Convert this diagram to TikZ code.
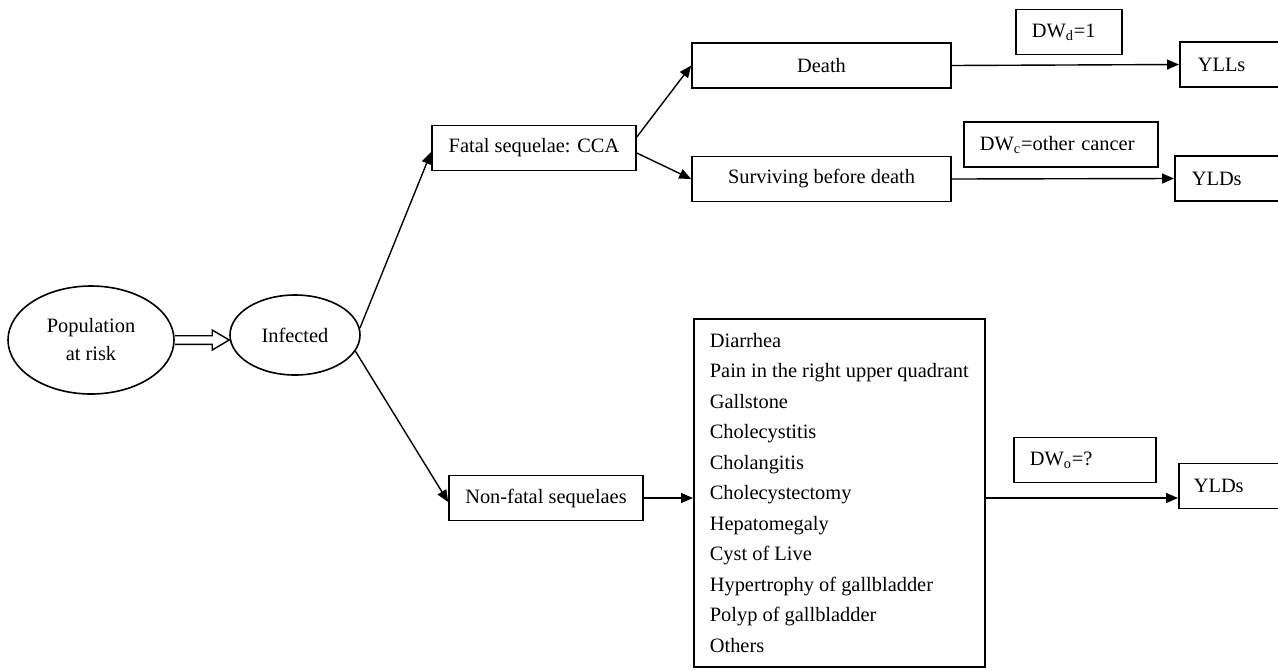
\documentclass[tikz,border=0pt]{standalone}
\usepackage{fontspec}
\setmainfont{Liberation Serif}
\usetikzlibrary{arrows.meta,calc,shapes.geometric}

\tikzset{
  box/.style={draw, line width=0.8pt, inner sep=0pt, minimum height=22.5pt},
  oval/.style={ellipse, draw, line width=0.8pt, inner sep=0pt, align=center},
  lbox/.style={box, anchor=west, align=left, inner xsep=8pt},
  arr/.style={-{Triangle[length=6pt,width=5pt]}, line width=0.7pt}
}

\begin{document}
\begin{tikzpicture}[x=0.5pt, y=-0.5pt, font=\fontsize{10.2}{15.25}\selectfont]
      \useasboundingbox (0,0) rectangle (1278,670);
      \clip (0,0) rectangle (1278,670);
      \node [oval, minimum width=83pt, minimum height=54pt, font=\fontsize{10.2}{14}\selectfont] (pop) at (91,340) {Population\\at risk};
      \node [oval, minimum width=65pt, minimum height=40pt] (inf) at (295,335) {Infected};
      \node [box, minimum width=102pt] (fat) at (534,148) {Fatal sequelae: CCA};
      \node [box, minimum width=97pt] (nfat) at (546,498) {Non-fatal sequelaes};
      \node [box, minimum width=129.5pt] (dea) at (821.5,65.5) {Death};
      \node [box, minimum width=129.5pt] (sur) at (821.5,179) {Surviving before death};
      \node [lbox, text width=37pt] (dwd) at (1015,32) {DW\textsubscript{d}=1};
      \node [lbox, text width=81pt] (dwc) at (963,144.5) {DW\textsubscript{c}=other cancer};
      \node [lbox, text width=55pt] (dwo) at (1013,460) {DW\textsubscript{o}=?};
      \node [lbox, inner xsep=9pt, text width=42pt] (yll) at (1179,64.5) {YLLs};
      \node [lbox, inner xsep=8.5pt, text width=43pt] (yldc) at (1174,178.5) {YLDs};
      \node [lbox, inner xsep=7.5pt, text width=45pt] (yldo) at (1178,486) {YLDs};
      \node [box, anchor=west, align=left, inner xsep=8pt, minimum width=145.5pt, minimum height=174pt] (lst) at (693,493) {Diarrhea\\Pain in the right upper quadrant\\Gallstone\\Cholecystitis\\Cholangitis\\Cholecystectomy\\Hepatomegaly\\Cyst of Live\\Hypertrophy of gallbladder\\Polyp of gallbladder\\Others};
      \coordinate (tip) at (inf.west |- pop.east);
      \draw [line width=0.7pt, line join=miter] ($(pop.east)+(0,-4.3)$) -- ($(tip)+(-17,-4.3)$) -- ($(tip)+(-17,-10)$) -- (tip) -- ($(tip)+(-17,10)$) -- ($(tip)+(-17,4.3)$) -- ($(pop.east)+(0,4.3)$);
      \draw [arr] (inf.6) -- ([yshift=-2pt]fat.west);
      \draw [arr] (inf.-15) -- ([yshift=-2pt]nfat.west);
      \draw [arr] ([yshift=5.5pt]fat.east) -- (dea.west);
      \draw [arr] ([yshift=-2.5pt]fat.east) -- (sur.west);
      \draw [arr] (dea.east) -- (yll.west);
      \draw [arr] (sur.east) -- (yldc.west);
      \draw [arr] (nfat.east) -- (nfat.east -| lst.west);
      \draw [arr] (lst.east |- nfat.east) -- (yldo.west |- nfat.east);
    \end{tikzpicture}
\end{document}
